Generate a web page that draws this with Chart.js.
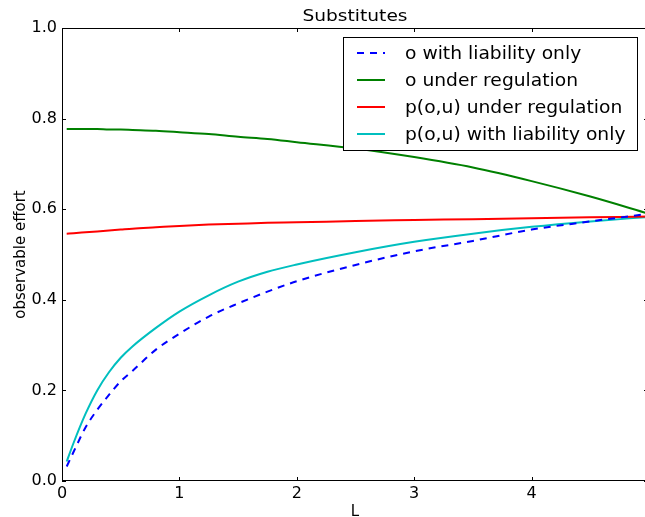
<!DOCTYPE html>
<html>
<head>
<meta charset="utf-8">
<script src="https://cdn.jsdelivr.net/npm/chart.js@4/dist/chart.umd.min.js"></script>
<style>
  html, body { margin: 0; padding: 0; background: #fff; overflow: hidden; }
  #wrap { width: 645px; height: 517px; overflow: hidden; position: relative; }
  #chart { display: block; }
</style>
</head>
<body>
<div id="wrap"><canvas id="chart" width="652" height="517"></canvas></div>
<script>
// data
const xValues = [0.04, 0.1, 0.2, 0.3, 0.4, 0.5, 0.6, 0.8, 1.0, 1.25, 1.5, 1.75, 2.0, 2.5, 3.0, 3.5, 4.0, 4.5, 5.0];
const oLiability = [0.032, 0.065, 0.118, 0.157, 0.190, 0.220, 0.243, 0.290, 0.325, 0.363, 0.392, 0.418, 0.441, 0.477, 0.507, 0.530, 0.555, 0.573, 0.590];
const oRegulation = [0.777, 0.777, 0.777, 0.777, 0.776, 0.776, 0.775, 0.773, 0.770, 0.766, 0.760, 0.755, 0.748, 0.734, 0.715, 0.692, 0.662, 0.628, 0.590];
const pRegulation = [0.546, 0.547, 0.549, 0.551, 0.553, 0.555, 0.557, 0.560, 0.563, 0.566, 0.568, 0.570, 0.571, 0.574, 0.576, 0.578, 0.580, 0.582, 0.584];
const pLiability = [0.043, 0.085, 0.148, 0.200, 0.240, 0.272, 0.297, 0.338, 0.374, 0.410, 0.440, 0.462, 0.478, 0.505, 0.528, 0.546, 0.561, 0.573, 0.583];
const xTicks = [0, 1, 2, 3, 4, 5];
const yTicks = [0, 0.2, 0.4, 0.6, 0.8, 1.0];

const FONT = "'DejaVu Sans', 'Liberation Sans', sans-serif";

function toPoints(ys) {
    return xValues.map((x, i) => ({ x: x, y: ys[i] }));
}

function makeLine(label, ys, color, dash) {
    return {
        label,
        data: toPoints(ys),
        borderColor: color,
        backgroundColor: color,
        borderWidth: 2,
        borderDash: dash || [],
        pointRadius: 0,
        fill: false,
        cubicInterpolationMode: 'monotone'
    };
}

// stretched text, the reference glyphs are wider than DejaVu
function wideText(ctx, text, x, y, stretch) {
    ctx.save();
    ctx.translate(x, y);
    ctx.scale(stretch, 1);
    ctx.fillText(text, 0, 0);
    ctx.restore();
}

// frame, inward ticks, title, axis labels and legend (matplotlib look)
const decorPlugin = {
    id: 'decor',
    afterDraw(chart) {
        const ctx = chart.ctx;
        const a = chart.chartArea;
        const xs = chart.scales.x, ys = chart.scales.y;
        ctx.save();
        ctx.strokeStyle = '#000';
        ctx.lineWidth = 1;
        ctx.strokeRect(a.left + 0.5, a.top + 0.5, a.right - a.left - 1, a.bottom - a.top - 1);

        ctx.beginPath();
        xTicks.forEach(v => {
            const px = Math.round(xs.getPixelForValue(v)) + 0.5;
            ctx.moveTo(px, a.bottom); ctx.lineTo(px, a.bottom - 4);
            ctx.moveTo(px, a.top); ctx.lineTo(px, a.top + 4);
        });
        yTicks.forEach(v => {
            const py = Math.round(ys.getPixelForValue(v)) + 0.5;
            ctx.moveTo(a.left, py); ctx.lineTo(a.left + 4, py);
            ctx.moveTo(a.right, py); ctx.lineTo(a.right - 5, py);
        });
        ctx.stroke();

        ctx.fillStyle = '#000';
        ctx.textAlign = 'center';
        ctx.textBaseline = 'alphabetic';
        ctx.font = '15px ' + FONT;
        wideText(ctx, 'Substitutes', 355, 21, 1.24);
        ctx.fillText('L', 355, 516);

        ctx.save();
        ctx.translate(25, (a.top + a.bottom) / 2);
        ctx.rotate(-Math.PI / 2);
        ctx.fillText('observable effort', 0, 0);
        ctx.restore();

        // legend
        const lx = 343, ly = 37, lw = 294, lh = 113;
        ctx.fillStyle = '#fff';
        ctx.fillRect(lx, ly, lw, lh);
        ctx.strokeStyle = '#000';
        ctx.strokeRect(lx + 0.5, ly + 0.5, lw, lh);
        ctx.textAlign = 'left';
        ctx.font = '17px ' + FONT;
        chart.data.datasets.forEach((ds, i) => {
            const y = 53 + i * 27;
            ctx.beginPath();
            ctx.strokeStyle = ds.borderColor;
            ctx.lineWidth = 2;
            ctx.setLineDash(ds.borderDash);
            ctx.moveTo(357, y); ctx.lineTo(385, y);
            ctx.stroke();
            ctx.setLineDash([]);
            ctx.fillStyle = '#000';
            wideText(ctx, ds.label, 405, y + 6, 1.1);
        });
        ctx.restore();
    }
};

const canvas = document.getElementById('chart');
new Chart(canvas, {
    type: 'line',
    data: {
        datasets: [
            makeLine('o with liability only', oLiability, '#0000ff', [7, 6]),
            makeLine('o under regulation', oRegulation, '#008000'),
            makeLine('p(o,u) under regulation', pRegulation, '#ff0000'),
            makeLine('p(o,u) with liability only', pLiability, '#00bfbf')
        ]
    },
    options: {
        responsive: false,
        animation: false,
        devicePixelRatio: 1,
        layout: { padding: { top: 28, right: 3, left: 0, bottom: 0 } },
        plugins: {
            legend: { display: false },
            tooltip: { enabled: false }
        },
        scales: {
            x: {
                type: 'linear',
                min: 0,
                max: 5,
                afterFit: s => { s.height = 36; s.paddingLeft = 0; s.paddingRight = 0; },
                afterBuildTicks: s => { s.ticks = xTicks.map(v => ({ value: v })); },
                grid: { display: false, drawTicks: false, tickLength: 0 },
                border: { display: false },
                ticks: {
                    color: '#000',
                    padding: 3,
                    maxRotation: 0,
                    font: { family: FONT, size: 16 }
                }
            },
            y: {
                min: 0,
                max: 1,
                afterFit: s => { s.width = 62; s.paddingTop = 0; s.paddingBottom = 0; },
                afterBuildTicks: s => { s.ticks = yTicks.map(v => ({ value: v })); },
                grid: { display: false, drawTicks: false, tickLength: 0 },
                border: { display: false },
                ticks: {
                    color: '#000',
                    padding: 5,
                    font: { family: FONT, size: 16 },
                    callback: v => v.toFixed(1)
                }
            }
        }
    },
    plugins: [decorPlugin]
});
</script>
</body>
</html>
